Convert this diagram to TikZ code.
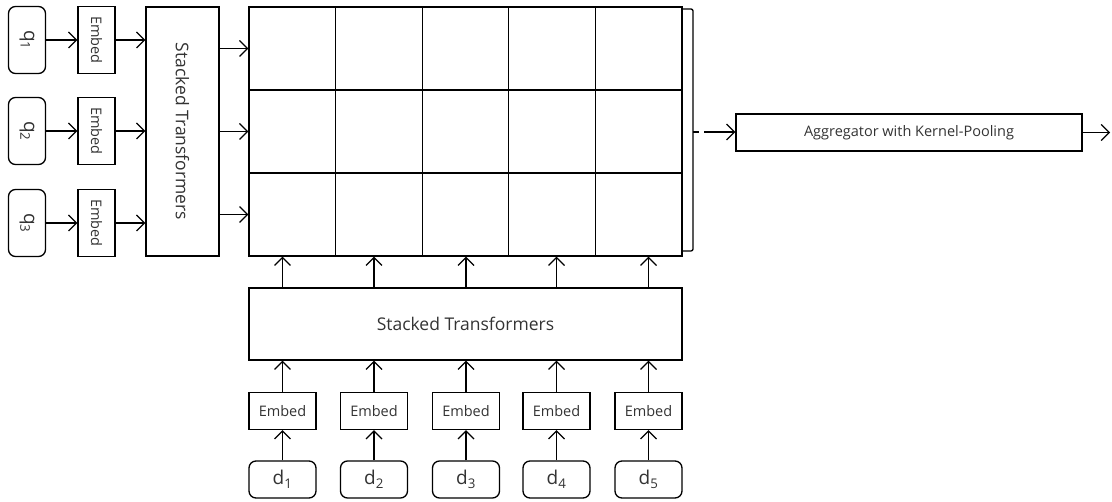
\documentclass[tikz,border=0pt]{standalone}
\usepackage{fontspec}
\setmainfont{Open Sans}
\usepackage{tikz}
\usetikzlibrary{arrows.meta,positioning,calc}
\tikzstyle{token}=[draw,rounded corners=7pt,minimum width=67pt,minimum height=37pt,inner sep=0pt,font=\fontsize{19}{19}\selectfont]
\tikzstyle{embed}=[draw,minimum width=67pt,minimum height=37pt,inner sep=0pt,font=\fontsize{14.5}{14.5}\selectfont]
\tikzstyle{stack}=[draw,inner sep=0pt,font=\fontsize{17.5}{17.5}\selectfont]
\tikzstyle{cell}=[draw,minimum width=86.6pt,minimum height=83pt,inner sep=0pt]
\tikzstyle{link}=[-{Straight Barb[length=8pt,width=16pt,line width=1.2pt]}]

\begin{document}
\begin{tikzpicture}[x=1pt,y=-1pt,line width=1.3pt,
    every node/.style={text=black!80}]
    \useasboundingbox (0,0) rectangle (1112,502);
    % query side, turned on its side
    \node [token,rotate=-90] (q1) at (27,40) {q\textsubscript{1}};
    \node [token,rotate=-90] (q2) at (27,131) {q\textsubscript{2}};
    \node [token,rotate=-90] (q3) at (27,223) {q\textsubscript{3}};
    \node [embed,rotate=-90] (eq1) at (96.5,40) {Embed};
    \node [embed,rotate=-90] (eq2) at (96.5,131) {Embed};
    \node [embed,rotate=-90] (eq3) at (96.5,223) {Embed};
    \node [stack,rotate=-90,minimum width=249pt,minimum height=73pt] (stq) at (182.5,131.5) {Stacked Transformers};
    % interaction matrix
    \foreach \r in {1,2,3}
      \foreach \c in {1,...,5}
        \node [cell] (cell-\r-\c) at ({249+86.6*(\c-0.5)},{7+83*(\r-0.5)}) {};
    \foreach \i in {1,2,3} {
      \draw [link] (q\i) -- (eq\i);
      \draw [link] (eq\i.north) -- (stq.south |- eq\i.north);
      \draw [link] (stq.north |- cell-\i-1.west) -- (cell-\i-1.west);
    }
    % document side
    \node [stack,minimum width=433pt,minimum height=72pt] (std) at (465.5,324) {Stacked Transformers};
    \foreach \k/\x in {1/282.5,2/374,3/466,4/556.5,5/648.5} {
      \node [token] (d\k) at (\x,479.5) {d\textsubscript{\k}};
      \node [embed] (ed\k) at (\x,411) {Embed};
      \draw [link] (d\k) -- (ed\k);
      \draw [link] (ed\k.north) -- (ed\k.north |- std.south);
      \draw [link] (ed\k.north |- std.north) -- (ed\k.north |- cell-3-1.south);
    }
    % bracket and aggregator
    \coordinate (nub) at (693,132);
    \draw [rounded corners=2pt] (683,9) -- (693,9) -- (693,251) -- (683,251);
    \draw [line width=1.8pt] (nub) -- ++(6,0);
    \node [stack,minimum width=346pt,minimum height=37pt,font=\fontsize{14.5}{14.5}\selectfont] (agg) at (909,132.5) {Aggregator with Kernel-Pooling};
    \coordinate (out) at (1110,132.5);
    \draw [link] ($(nub)+(11,0)$) -- (agg.west |- nub);
    \draw [link] (agg) -- (out);
\end{tikzpicture}
\end{document}
